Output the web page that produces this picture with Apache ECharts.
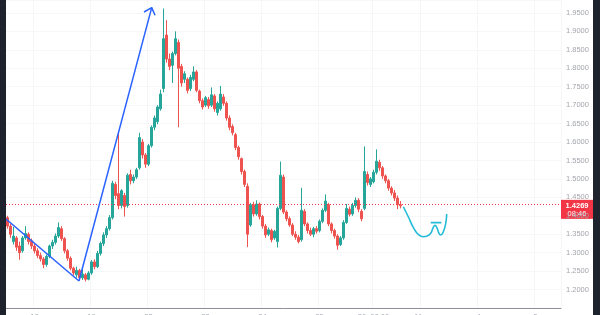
<!DOCTYPE html>
<html><head><meta charset="utf-8">
<script src="https://cdn.jsdelivr.net/npm/echarts@6/dist/echarts.min.js"></script>
<style>
html,body{margin:0;padding:0;background:#1e222d;width:600px;height:315px;overflow:hidden;}
#chart{position:absolute;left:6px;top:0;width:587px;height:315px;background:#ffffff;}
</style></head>
<body><div id="chart"></div>
<script>
// ---- data ----
const opens = [
1.395,1.372,1.330,1.340,1.318,1.305,1.340,1.350,1.332,1.318,
1.305,1.292,1.283,1.268,1.290,1.318,1.328,1.345,1.365,1.338,
1.305,1.285,1.258,1.240,1.252,1.232,1.240,1.228,1.245,1.275,
1.262,1.298,1.325,1.348,1.365,1.395,1.485,1.460,1.428,1.455,
1.428,1.512,1.495,1.505,1.530,1.600,1.565,1.540,1.590,1.640,
1.655,1.690,1.745,1.890,1.825,1.808,1.840,1.870,1.805,1.770,
1.770,1.745,1.770,1.790,1.738,1.712,1.700,1.715,1.700,1.725,
1.680,1.690,1.722,1.705,1.665,1.642,1.620,1.585,1.555,1.520,
1.480,1.375,1.430,1.405,1.432,1.398,1.372,1.350,1.360,1.340,
1.330,1.420,1.505,1.410,1.392,1.375,1.350,1.342,1.335,1.412,
1.378,1.360,1.350,1.365,1.360,1.385,1.415,1.430,1.378,1.360,
1.345,1.322,1.340,1.382,1.418,1.405,1.428,1.442,1.412,1.420,
1.512,1.485,1.492,1.518,1.545,1.530,1.508,1.495,1.475,1.462,
1.448,1.430];
const closes = [
1.372,1.350,1.345,1.315,1.300,1.340,1.352,1.330,1.318,1.305,
1.292,1.283,1.268,1.290,1.318,1.328,1.345,1.368,1.338,1.305,
1.285,1.258,1.245,1.252,1.232,1.242,1.228,1.245,1.275,1.262,
1.298,1.325,1.348,1.365,1.395,1.488,1.455,1.428,1.468,1.425,
1.510,1.495,1.505,1.525,1.612,1.565,1.540,1.590,1.640,1.665,
1.695,1.730,1.880,1.825,1.805,1.840,1.880,1.800,1.760,1.785,
1.740,1.775,1.790,1.740,1.712,1.695,1.720,1.698,1.728,1.690,
1.705,1.730,1.705,1.665,1.640,1.625,1.585,1.560,1.520,1.485,
1.350,1.430,1.405,1.432,1.398,1.372,1.348,1.362,1.335,1.358,
1.420,1.510,1.410,1.392,1.375,1.350,1.342,1.330,1.415,1.378,
1.360,1.350,1.365,1.358,1.385,1.415,1.440,1.378,1.360,1.345,
1.320,1.340,1.382,1.420,1.404,1.428,1.442,1.418,1.392,1.520,
1.490,1.500,1.518,1.548,1.530,1.508,1.495,1.475,1.462,1.448,
1.430,1.4269];
const lows = [
1.365,1.340,1.322,1.305,1.281,1.300,1.335,1.322,1.310,1.298,
1.285,1.276,1.258,1.262,1.285,1.310,1.322,1.340,1.332,1.298,
1.278,1.252,1.238,1.232,1.226,1.226,1.222,1.225,1.240,1.255,
1.258,1.292,1.318,1.340,1.360,1.390,1.445,1.418,1.420,1.398,
1.422,1.485,1.488,1.500,1.525,1.555,1.530,1.535,1.585,1.632,
1.648,1.685,1.735,1.815,1.795,1.760,1.835,1.640,1.750,1.760,
1.732,1.738,1.765,1.735,1.705,1.688,1.695,1.690,1.695,1.682,
1.672,1.685,1.698,1.658,1.632,1.618,1.578,1.552,1.512,1.478,
1.315,1.370,1.398,1.400,1.390,1.365,1.340,1.345,1.328,1.335,
1.314,1.415,1.405,1.385,1.370,1.345,1.335,1.325,1.330,1.372,
1.352,1.345,1.342,1.352,1.355,1.380,1.410,1.372,1.352,1.338,
1.308,1.318,1.335,1.378,1.398,1.400,1.422,1.410,1.385,1.415,
1.482,1.478,1.488,1.512,1.522,1.500,1.488,1.468,1.455,1.440,
1.418,1.420];
const highs = [
1.400,1.378,1.370,1.345,1.330,1.345,1.372,1.355,1.338,1.325,
1.312,1.300,1.288,1.295,1.322,1.335,1.352,1.382,1.372,1.342,
1.310,1.290,1.262,1.262,1.256,1.258,1.245,1.250,1.280,1.282,
1.305,1.330,1.355,1.372,1.402,1.495,1.492,1.625,1.472,1.462,
1.515,1.525,1.512,1.530,1.625,1.608,1.570,1.595,1.645,1.672,
1.700,1.742,1.962,1.930,1.840,1.845,1.900,1.878,1.812,1.792,
1.775,1.782,1.805,1.795,1.742,1.718,1.725,1.722,1.748,1.730,
1.710,1.752,1.730,1.710,1.672,1.648,1.625,1.590,1.558,1.525,
1.488,1.435,1.438,1.442,1.436,1.402,1.378,1.368,1.365,1.362,
1.425,1.547,1.512,1.415,1.398,1.380,1.358,1.348,1.476,1.418,
1.382,1.368,1.370,1.372,1.390,1.420,1.458,1.435,1.382,1.365,
1.350,1.345,1.388,1.432,1.425,1.435,1.450,1.448,1.418,1.588,
1.520,1.505,1.525,1.580,1.552,1.535,1.512,1.500,1.480,1.470,
1.455,1.440];

const lastPrice = 1.4269;
const countdown = '08:46';
const priceTicks = [1.20,1.25,1.30,1.35,1.40,1.45,1.50,1.55,1.60,1.65,1.70,1.75,1.80,1.85,1.90,1.95];
const timeLabels = ['18','19','22','23','24','25','26  08:00','Mar','4','5'];
const timeLabelSlots = [9,28,47,66,85,104,122,138,157,176];
const totalSlots = 185;

// drawings in (bar index, price)
const trendDown = [[-0.5,1.3911],[23.83,1.2233]];
const trendUp = [[23.83,1.2233],[48.07,1.9644]];
const arrowHead = [[45.5,1.9525],[48.07,1.9644],[49.17,1.9436]];
const projection = [[131.93,1.4245],[133.6,1.3974],[135.27,1.3687],[136.93,1.3497],[138.6,1.3432],
  [139.93,1.3451],[141.07,1.3525],[141.93,1.3687],[142.5,1.3741],[143.07,1.3687],[143.83,1.3525],
  [144.4,1.3478],[145.27,1.3568],[146.07,1.3795],[146.4,1.4047]];
const projLevel = [[141.07,1.3815],[144.63,1.3815]];

// ---- build ----
const categories = [];
for (let i = 0; i < totalSlots; i++) {
  const k = timeLabelSlots.indexOf(i);
  categories.push(k >= 0 ? timeLabels[k] : '');
}
const candleData = opens.map((o, i) => [o, closes[i], lows[i], highs[i]]);

const chart = echarts.init(document.getElementById('chart'), null, {renderer: 'canvas'});
const labelFont = {color: '#a3a6ad', fontSize: 7.5, fontFamily: 'Liberation Sans, Arial, sans-serif'};

function drawLine(data, color, width, smooth) {
  return {type: 'line', xAxisIndex: 1, yAxisIndex: 0, data: data, symbol: 'none', smooth: smooth || false,
    silent: true, lineStyle: {color: color, width: width}, z: 5};
}

chart.setOption({
  animation: false,
  backgroundColor: '#ffffff',
  grid: {left: 0, right: 32, top: 0, bottom: 7, containLabel: false, outerBoundsMode: 'none'},
  xAxis: [{
    type: 'category', data: categories, boundaryGap: true,
    axisLine: {show: true, lineStyle: {color: '#8e9099', width: 1}},
    axisTick: {show: false},
    axisLabel: Object.assign({interval: 0, margin: 5}, labelFont),
    splitLine: {show: true, interval: (idx, v) => v !== '', lineStyle: {color: '#f5f6f8', width: 1}}
  }, {
    type: 'value', min: -0.5, max: totalSlots - 0.5, show: false
  }],
  yAxis: [{
    type: 'value', position: 'right', min: 1.15, max: 1.985, interval: 0.05,
    axisLine: {show: false}, axisTick: {show: false},
    axisLabel: Object.assign({margin: 5, formatter: v => (v < priceTicks[0] - 0.01 || v > priceTicks[priceTicks.length-1] + 0.01) ? '' : v.toFixed(4)}, labelFont),
    splitLine: {show: true, lineStyle: {color: '#f6f7f9', width: 1}}
  }],
  series: [{
    type: 'candlestick', data: candleData, xAxisIndex: 0, yAxisIndex: 0,
    barWidth: '62%',
    itemStyle: {color: '#26a69a', color0: '#ef5350', borderColor: '#26a69a', borderColor0: '#ef5350', borderWidth: 1},
    markLine: {
      silent: true, symbol: 'none', label: {show: false},
      lineStyle: {color: '#f23645', type: [1, 2], width: 1},
      data: [{yAxis: lastPrice}]
    },
    z: 3
  },
  drawLine(trendDown, '#2962ff', 1.5),
  drawLine(trendUp, '#2962ff', 1.5),
  drawLine(arrowHead, '#2962ff', 1.5),
  drawLine(projection, '#22bcd8', 1.6, 0.5),
  drawLine(projLevel, '#22bcd8', 1.6)
  ]
});

// price tag on the price scale, placed through the axis scale
const py = chart.convertToPixel({yAxisIndex: 0}, lastPrice);
const gx = chart.convertToPixel({xAxisIndex: 1}, totalSlots - 0.5);
chart.setOption({
  graphic: [{
    type: 'group', left: gx, top: py - 6, z: 100,
    children: [
      {type: 'rect', shape: {x: 0, y: 0, width: 587 - gx, height: 19}, style: {fill: '#f23645'}},
      {type: 'text', x: (587 - gx) / 2, y: 6, style: {text: lastPrice.toFixed(4), fill: '#ffffff', fontSize: 7.5, fontWeight: 'bold', fontFamily: 'Liberation Sans, Arial, sans-serif', align: 'center', verticalAlign: 'middle'}},
      {type: 'text', x: (587 - gx) / 2, y: 14, style: {text: countdown, fill: '#ffffff', fontSize: 7.5, fontFamily: 'Liberation Sans, Arial, sans-serif', align: 'center', verticalAlign: 'middle'}}
    ]
  }]
});
</script>
</body></html>
